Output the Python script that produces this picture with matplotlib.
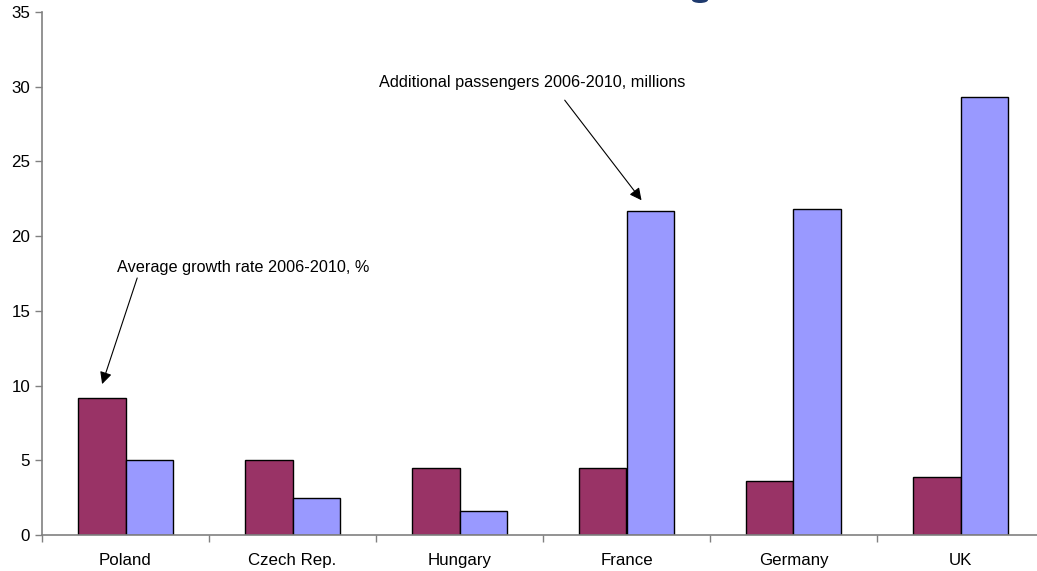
import matplotlib.pyplot as plt
from matplotlib.patches import Ellipse
import numpy as np

plt.rcParams['font.family'] = ['Liberation Sans', 'DejaVu Sans']

# data
countries = ["Poland", "Czech Rep.", "Hungary", "France", "Germany", "UK"]
growth_rate = [9.2, 5.0, 4.5, 4.5, 3.6, 3.9]          # average growth rate 2006-2010, %
extra_pax = [5.0, 2.5, 1.6, 21.7, 21.8, 29.3]         # additional passengers 2006-2010, millions
y_ticks = [0, 5, 10, 15, 20, 25, 30, 35]

fig = plt.figure(figsize=(10.37, 5.71), dpi=100, facecolor='w')
ax = fig.add_axes([42/1037, 36/571, 1002/1037, 523/571])

x = np.arange(len(countries))
w = 0.283
ax.bar(x - w/2, growth_rate, w, color='#993366', edgecolor='black', lw=1, zorder=2)
ax.bar(x + w/2, extra_pax, w, color='#9999FF', edgecolor='black', lw=1, zorder=2)

ax.set_xlim(-0.5, len(countries) - 0.5)
ax.set_ylim(0, 35)
ax.set_yticks(y_ticks)
ax.set_xticks(x)
ax.set_xticklabels(countries)
ax.set_xticks(np.arange(len(countries) + 1) - 0.5, minor=True)

for s in ['top', 'right']:
    ax.spines[s].set_visible(False)
for s in ['left', 'bottom']:
    ax.spines[s].set_color('#808080')
    ax.spines[s].set_linewidth(1.2)

ax.tick_params(axis='y', direction='out', length=5, width=1, color='#808080', labelsize=12.2, pad=3.5)
ax.tick_params(axis='x', which='major', length=0, labelsize=12.2, pad=13)
ax.tick_params(axis='x', which='minor', direction='out', length=5, width=1, color='#808080')

# annotations with arrows
arrow = dict(arrowstyle='-|>', color='black', lw=0.8, mutation_scale=18, shrinkA=0, shrinkB=0)
ax.text(-0.05, 17.87, "Average growth rate 2006-2010, %", fontsize=11.7, va='center', ha='left')
ax.annotate('', xy=(-0.14, 10.1), xytext=(0.07, 17.2), arrowprops=arrow)
ax.text(1.52, 30.25, "Additional passengers 2006-2010, millions", fontsize=11.7, va='center', ha='left')
ax.annotate('', xy=(3.09, 22.4), xytext=(2.63, 29.1), arrowprops=arrow)

# cut-off bit of the title at the top edge
fig.patches.append(Ellipse((700/1037, 1.0), 16/1037, 6/571, transform=fig.transFigure,
                           facecolor='#1F3A6E', edgecolor='none'))

fig.savefig('out.png', dpi=100)
